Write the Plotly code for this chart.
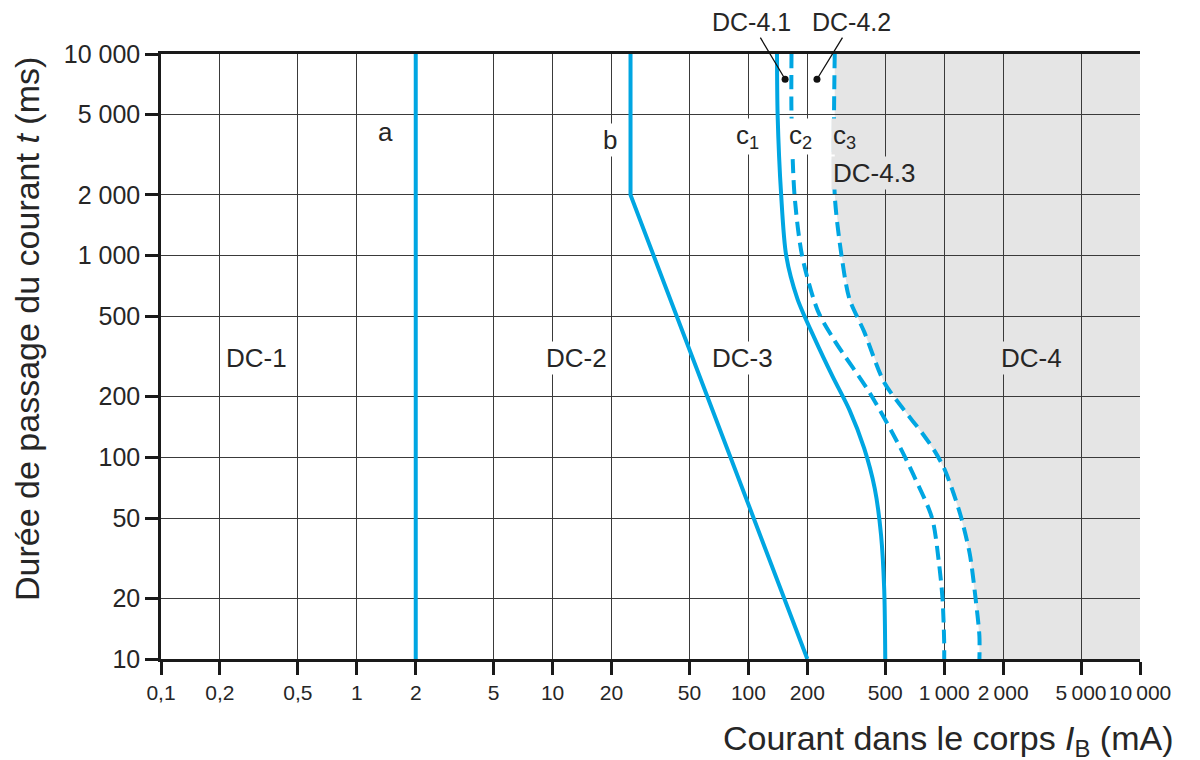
import numpy as np
import plotly.graph_objects as go

# ---------------- data ----------------
x_tick_vals = [0.1, 0.2, 0.5, 1, 2, 5, 10, 20, 50, 100, 200, 500, 1000, 2000, 5000, 10000]
x_tick_text = ["0,1", "0,2", "0,5", "1", "2", "5", "10", "20", "50", "100", "200", "500",
               "1\u2009000", "2\u2009000", "5\u2009000", "10\u2009000"]
y_tick_vals = [10, 20, 50, 100, 200, 500, 1000, 2000, 5000, 10000]
y_tick_text = ["10", "20", "50", "100", "200", "500", "1 000", "2 000", "5 000", "10 000"]

a_current = [2, 2]
a_time = [10, 10000]

b_current = [25, 25, 200]
b_time = [10000, 2000, 10]

c1_current = [140, 141, 147, 156, 178, 218, 269, 328, 390, 442, 476, 494, 500]
c1_time = [10000, 5000, 2000, 1000, 611, 388, 252, 172, 111, 70, 41, 22, 10]

c2_current = [166, 166, 172, 188, 226, 276, 415, 590, 696, 867, 940, 980, 1000, 1000]
c2_time = [10000, 5000, 2000, 1000, 534, 378, 210, 114, 82, 50, 30, 20, 12, 10]

c3_current = [276, 276, 299, 328, 390, 494, 623, 776, 896, 1000, 1118, 1223, 1352, 1446, 1513, 1513]
c3_time = [10000, 2000, 1000, 611, 420, 235, 172, 131, 107, 88, 66, 50, 33, 20, 13, 10]

dot_current = [154, 224]
dot_time = [7500, 7500]
dot_labels = ["DC-4.1", "DC-4.2"]

# ---------------- styling ----------------
BLUE = "#00a6e2"
TXT = "#262626"
GRID = "#3a3a3a"
AX = "#1a1a1a"
GRAY = "#e5e5e5"
FONT = "Liberation Sans"

W, H = 1200, 760
OFF = 8  # page body margin of the html page
L, T = 153, 46
PW, PH = 979, 605
R, B = W - L - PW, H - T - PH


def px(xp):
    return (xp - OFF - L) / PW


def py(yp):
    return (T + PH - (yp - OFF)) / PH


fig = go.Figure()

# DC-4 shaded region (right of c3), under the grid
path = "M " + " L ".join(f"{x},{y}" for x, y in zip(c3_current, c3_time))
path += f" L {x_tick_vals[-1]},{y_tick_vals[0]} L {x_tick_vals[-1]},{y_tick_vals[-1]} Z"
fig.add_shape(type="path", path=path, xref="x", yref="y", layer="below",
              fillcolor=GRAY, line=dict(width=0))

line_w = 4
fig.add_trace(go.Scatter(x=a_current, y=a_time, mode="lines",
                         line=dict(color=BLUE, width=line_w)))
fig.add_trace(go.Scatter(x=b_current, y=b_time, mode="lines",
                         line=dict(color=BLUE, width=line_w)))
fig.add_trace(go.Scatter(x=c1_current, y=c1_time, mode="lines",
                         line=dict(color=BLUE, width=line_w, shape="spline", smoothing=0.8)))
fig.add_trace(go.Scatter(x=c2_current, y=c2_time, mode="lines",
                         line=dict(color=BLUE, width=line_w, shape="spline", smoothing=0.8,
                                   dash="14px,7px")))
fig.add_trace(go.Scatter(x=c3_current, y=c3_time, mode="lines",
                         line=dict(color=BLUE, width=line_w, shape="spline", smoothing=0.8,
                                   dash="14px,7px")))
fig.add_trace(go.Scatter(x=dot_current, y=dot_time, mode="markers",
                         marker=dict(color="#111111", size=7)))

annotations = []

# DC-4.1 / DC-4.2 leaders
for xv, yv, lab, axo, ayo in zip(dot_current, dot_time, dot_labels, [-34, 35], [-57, -57]):
    annotations.append(dict(x=np.log10(xv), y=np.log10(yv), xref="x", yref="y",
                            text=lab, showarrow=True, arrowhead=0, arrowwidth=1.3,
                            arrowcolor="#111111", ax=axo, ay=ayo, standoff=2,
                            font=dict(family=FONT, size=25, color=TXT)))

labels = [
    ("a", 385, 132, "white"),
    ("b", 610, 140, "white"),
    ("c<sub>1</sub>", 747, 136, "white"),
    ("c<sub>2</sub>", 800, 136, "white"),
    ("c<sub>3</sub>", 844, 136, GRAY),
    ("DC-4.3", 874, 173, GRAY),
    ("DC-1", 256, 358, "white"),
    ("DC-2", 576, 358, "white"),
    ("DC-3", 742, 358, "white"),
    ("DC-4", 1031, 358, GRAY),
]
for text, xp, yp, bg in labels:
    annotations.append(dict(x=px(xp), y=py(yp), xref="paper", yref="paper",
                            text=text, showarrow=False, bgcolor=bg, borderpad=1,
                            xanchor="center", yanchor="middle",
                            font=dict(family=FONT, size=26, color=TXT)))

# axis titles
annotations.append(dict(x=px(1176), y=py(741), xref="paper", yref="paper",
                        text="Courant dans le corps <i>I</i><sub>B</sub> (mA)",
                        showarrow=False, xanchor="right", yanchor="middle",
                        font=dict(family=FONT, size=34, color=TXT)))
annotations.append(dict(x=px(27), y=py(329), xref="paper", yref="paper",
                        text="Durée de passage du courant <i>t</i> (ms)", textangle=-90,
                        showarrow=False, xanchor="center", yanchor="middle",
                        font=dict(family=FONT, size=34, color=TXT)))

axis_common = dict(
    type="log", showgrid=True, gridcolor=GRID, gridwidth=1.2,
    showline=True, linecolor=AX, linewidth=2.5,
    ticks="outside", ticklen=13, tickwidth=2.5, tickcolor=AX,
    zeroline=False, automargin=False,
)

fig.update_layout(
    width=W, height=H,
    margin=dict(l=L, r=R, t=T, b=B, pad=0),
    paper_bgcolor="white", plot_bgcolor="white",
    showlegend=False,
    xaxis=dict(range=[np.log10(x_tick_vals[0]), np.log10(x_tick_vals[-1])],
               tickmode="array", tickvals=x_tick_vals, ticktext=x_tick_text,
               tickangle=0, tickfont=dict(family=FONT, size=21, color=TXT),
               mirror=True, **axis_common),
    yaxis=dict(range=[np.log10(y_tick_vals[0]), np.log10(y_tick_vals[-1])],
               tickmode="array", tickvals=y_tick_vals, ticktext=y_tick_text,
               tickfont=dict(family=FONT, size=25, color=TXT),
               mirror=False, **axis_common),
    annotations=annotations,
)

fig.write_html("out.html")
